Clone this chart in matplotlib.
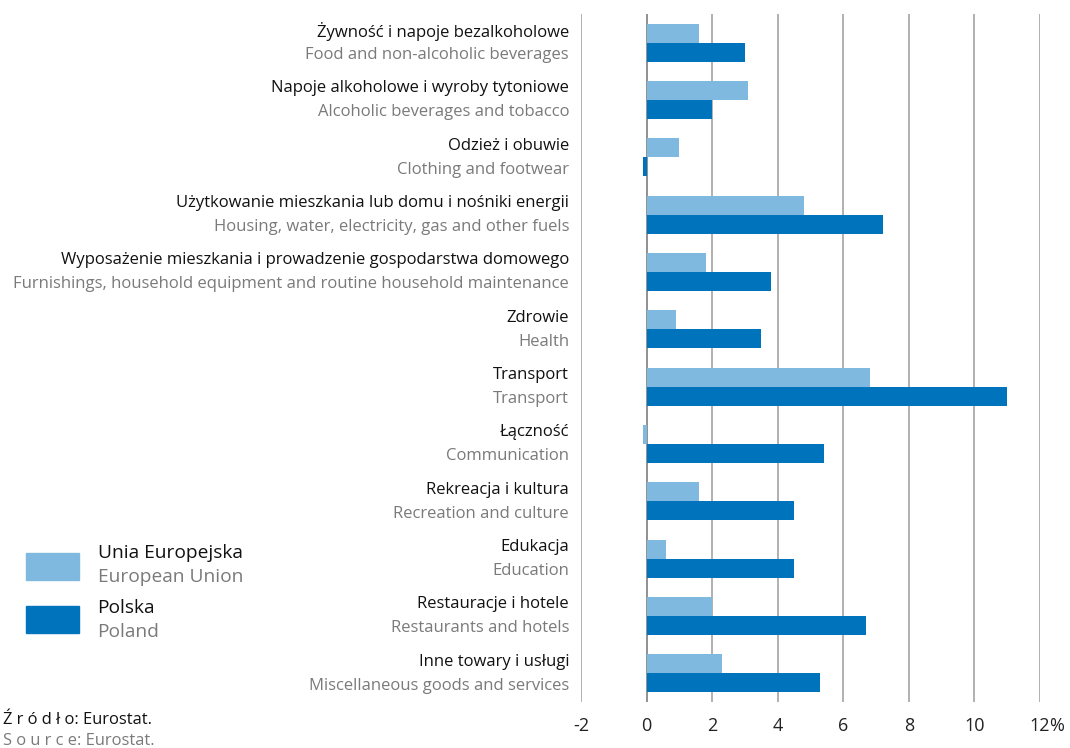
import matplotlib
matplotlib.use("Agg")
import matplotlib.pyplot as plt
from matplotlib.patches import Rectangle
import numpy as np

plt.rcParams['font.family'] = ['Open Sans', 'DejaVu Sans']

cats_pl = ["Żywność i napoje bezalkoholowe",
           "Napoje alkoholowe i wyroby tytoniowe",
           "Odzież i obuwie",
           "Użytkowanie mieszkania lub domu i nośniki energii",
           "Wyposażenie mieszkania i prowadzenie gospodarstwa domowego",
           "Zdrowie",
           "Transport",
           "Łączność",
           "Rekreacja i kultura",
           "Edukacja",
           "Restauracje i hotele",
           "Inne towary i usługi"]
cats_en = ["Food and non-alcoholic beverages",
           "Alcoholic beverages and tobacco",
           "Clothing and footwear",
           "Housing, water, electricity, gas and other fuels",
           "Furnishings, household equipment and routine household maintenance",
           "Health",
           "Transport",
           "Communication",
           "Recreation and culture",
           "Education",
           "Restaurants and hotels",
           "Miscellaneous goods and services"]
eu = [1.6, 3.1, 1.0, 4.8, 1.8, 0.9, 6.8, -0.1, 1.6, 0.6, 2.0, 2.3]
pl = [3.0, 2.0, -0.1, 7.2, 3.8, 3.5, 11.0, 5.4, 4.5, 4.5, 6.7, 5.3]
xticks = [-2, 0, 2, 4, 6, 8, 10, 12]
xticklabels = ["-2", "0", "2", "4", "6", "8", "10", "12"]

C_EU = "#80b9df"
C_PL = "#0073bd"
GRAY = "#7a7a7a"

W, H = 1070, 748
fig = plt.figure(figsize=(W/100, H/100), dpi=100)
ax = fig.add_axes([581/W, (H-702)/H, 459/W, 688/H])

n = len(cats_pl)
y = np.arange(n)
bh = 0.33
ax.barh(y - bh/2, eu, height=bh, color=C_EU, zorder=3)
ax.barh(y + bh/2, pl, height=bh, color=C_PL, zorder=3)

ax.set_xlim(-2, 12)
ax.set_ylim(n - 0.5, -0.5)
for xv in xticks:
    ax.axvline(xv, color="#b0b0b0" if xv != 0 else "#909090", lw=1.4, zorder=1)
for s in ax.spines.values():
    s.set_visible(False)
ax.set_yticks([])
ax.set_xticks(xticks)
ax.set_xticklabels(xticklabels, fontsize=13, color="#222222")
ax.tick_params(axis='x', length=0, pad=11)
# percent sign after last tick label
ax.annotate("%", xy=(12, 0), xycoords=ax.get_xaxis_transform(),
            xytext=(6.5, -11), textcoords="offset points", ha="left", va="top",
            fontsize=13, color="#222222")

for i in range(n):
    ax.annotate(cats_pl[i], xy=(-2, i), xycoords="data", xytext=(-8.6, 8.3),
                textcoords="offset points", ha="right", va="center",
                fontsize=12, color="#111111", annotation_clip=False)
    ax.annotate(cats_en[i], xy=(-2, i), xycoords="data", xytext=(-8.6, -8.8),
                textcoords="offset points", ha="right", va="center",
                fontsize=12, color=GRAY, annotation_clip=False)

# legend
fig.patches.append(Rectangle((26/W, (H-580)/H), 53/W, 27/H, transform=fig.transFigure,
                             color=C_EU, figure=fig))
fig.patches.append(Rectangle((26/W, (H-633)/H), 53/W, 27/H, transform=fig.transFigure,
                             color=C_PL, figure=fig))
fig.text(98/W, 1 - 553/H, "Unia Europejska", fontsize=13.8, color="#111111", va="center")
fig.text(98/W, 1 - 577/H, "European Union", fontsize=13.8, color=GRAY, va="center")
fig.text(97/W, 1 - 608/H, "Polska", fontsize=13.8, color="#111111", va="center")
fig.text(97/W, 1 - 632/H, "Poland", fontsize=13.8, color=GRAY, va="center")

fig.text(3/W, 1 - 720/H, "Ź r ó d ł o: Eurostat.", fontsize=11.9, color="#111111", va="center")
fig.text(3/W, 1 - 741/H, "S o u r c e: Eurostat.", fontsize=11.9, color=GRAY, va="center")

fig.savefig("out.png", dpi=100)
